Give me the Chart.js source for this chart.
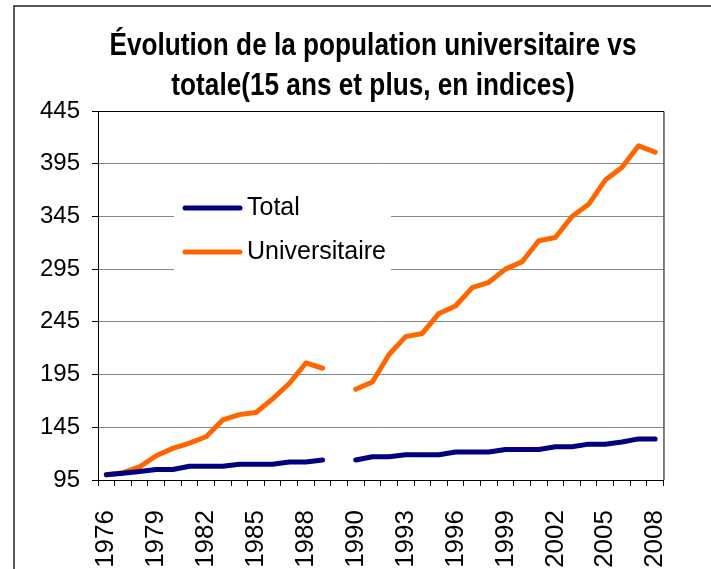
<!DOCTYPE html>
<html>
<head>
<meta charset="utf-8">
<script src="https://cdn.jsdelivr.net/npm/chart.js@4.4.1/dist/chart.umd.min.js"></script>
<style>
html, body { margin: 0; padding: 0; background: #fff; }
#wrap { width: 711px; height: 569px; position: relative; }
</style>
</head>
<body>
<div id="wrap"><canvas id="chart" width="711" height="569"></canvas></div>
<script>
// years, with an empty slot where the series break
const years = ["1976", "1977", "1978", "1979", "1980", "1981", "1982", "1983", "1984", "1985",
    "1986", "1987", "1988", "1989", "", "1990", "1991", "1992", "1993", "1994", "1995", "1996",
    "1997", "1998", "1999", "2000", "2001", "2002", "2003", "2004", "2005", "2006", "2007", "2008"];
const shownYears = ["1976", "1979", "1982", "1985", "1988", "1990", "1993", "1996", "1999", "2002", "2005", "2008"];

const total = [100, 101.5, 103, 105, 105, 108, 108, 108, 110, 110, 110, 112, 112, 114, null,
    114, 117, 117, 119, 119, 119, 121.5, 121.5, 121.5, 124, 124, 124, 126.5, 126.5, 129, 129, 131, 134, 134];
const universitaire = [100, 102, 107.5, 118, 125, 130, 136, 152, 157, 159, 172, 186.5, 206, 201, null,
    181, 188, 214, 231, 234, 253, 260, 277.5, 282.5, 295, 302, 322, 325, 345, 356.5, 379.5, 391.5, 412, 406];

const yTicks = [95, 145, 195, 245, 295, 345, 395, 445];
const titleLines = ["Évolution de la population universitaire vs", "totale(15 ans et plus, en indices)"];

const FONT = "'Liberation Sans', Arial, sans-serif";

// title + outer frame + plot border
const framePlugin = {
    id: "frame",
    beforeDraw(chart) {
        const ctx = chart.ctx;
        ctx.save();
        ctx.strokeStyle = "#222";
        ctx.lineWidth = 1.5;
        ctx.beginPath();
        ctx.moveTo(14, 569);
        ctx.lineTo(14, 6);
        ctx.lineTo(711, 6);
        ctx.stroke();
        ctx.restore();

        // the original title is set in a narrow bold face: squeeze it
        ctx.save();
        ctx.fillStyle = "#000";
        ctx.textAlign = "center";
        ctx.textBaseline = "middle";
        ctx.font = "bold 31px " + FONT;
        const sx = 527 / ctx.measureText(titleLines[0]).width;
        ctx.translate(373, 0);
        ctx.scale(sx, 1);
        ctx.fillText(titleLines[0], 0, 46);
        ctx.fillText(titleLines[1], 0, 86);
        ctx.restore();
    },
    afterDraw(chart) {
        const a = chart.chartArea;
        const ctx = chart.ctx;
        ctx.save();
        ctx.strokeStyle = "#000";
        ctx.lineWidth = 1;
        ctx.beginPath();
        ctx.moveTo(a.left, a.top + 0.5);
        ctx.lineTo(a.right + 0.5, a.top + 0.5);
        ctx.lineTo(a.right + 0.5, a.bottom);
        ctx.stroke();
        ctx.restore();
    }
};

// legend drawn inside the plot, white box over the grid
const boxLegend = {
    id: "boxLegend",
    beforeDatasetsDraw(chart) {
        const ctx = chart.ctx;
        ctx.save();
        ctx.fillStyle = "#fff";
        ctx.fillRect(174, 172, 217, 116);
        ctx.font = "25px " + FONT;
        ctx.textBaseline = "middle";
        chart.data.datasets.forEach((ds, i) => {
            const y = 208 + i * 44;
            ctx.strokeStyle = ds.borderColor;
            ctx.lineWidth = 5;
            ctx.lineCap = "round";
            ctx.beginPath();
            ctx.moveTo(185, y);
            ctx.lineTo(240, y);
            ctx.stroke();
            ctx.fillStyle = "#000";
            ctx.fillText(ds.label, 247, y);
        });
        ctx.restore();
    }
};

new Chart(document.getElementById("chart"), {
    type: "line",
    data: {
        labels: years,
        datasets: [{
            label: "Total",
            data: total,
            borderColor: "#000080",
            borderWidth: 5,
            pointRadius: 0,
            tension: 0,
            spanGaps: false,
            borderCapStyle: "round",
            borderJoinStyle: "round"
        }, {
            label: "Universitaire",
            data: universitaire,
            borderColor: "#FF6600",
            borderWidth: 5,
            pointRadius: 0,
            tension: 0,
            spanGaps: false,
            borderCapStyle: "round",
            borderJoinStyle: "round"
        }]
    },
    options: {
        responsive: false,
        animation: false,
        layout: { padding: { top: 111, right: 43, left: 0, bottom: 0 } },
        plugins: {
            legend: { display: false },
            title: { display: false },
            tooltip: { enabled: false }
        },
        scales: {
            x: {
                type: "category",
                offset: true,
                afterFit: s => { s.height = 89; },
                border: { display: true, color: "#000", width: 1 },
                grid: { offset: true, drawOnChartArea: false, color: "#000", tickLength: 6 },
                ticks: {
                    autoSkip: false,
                    minRotation: 90,
                    maxRotation: 90,
                    padding: 24,
                    color: "#000",
                    font: { family: FONT, size: 26 },
                    callback: (v, i) => shownYears.includes(years[i]) ? years[i] : ""
                }
            },
            y: {
                min: 95,
                max: 445,
                afterFit: s => { s.width = 98; },
                afterBuildTicks: s => { s.ticks = yTicks.map(v => ({ value: v })); },
                border: { display: true, color: "#000", width: 1 },
                grid: { color: "#888", tickColor: "#000", tickLength: 6 },
                ticks: {
                    padding: 12,
                    color: "#000",
                    font: { family: FONT, size: 24 }
                }
            }
        }
    },
    plugins: [framePlugin, boxLegend]
});
</script>
</body>
</html>
